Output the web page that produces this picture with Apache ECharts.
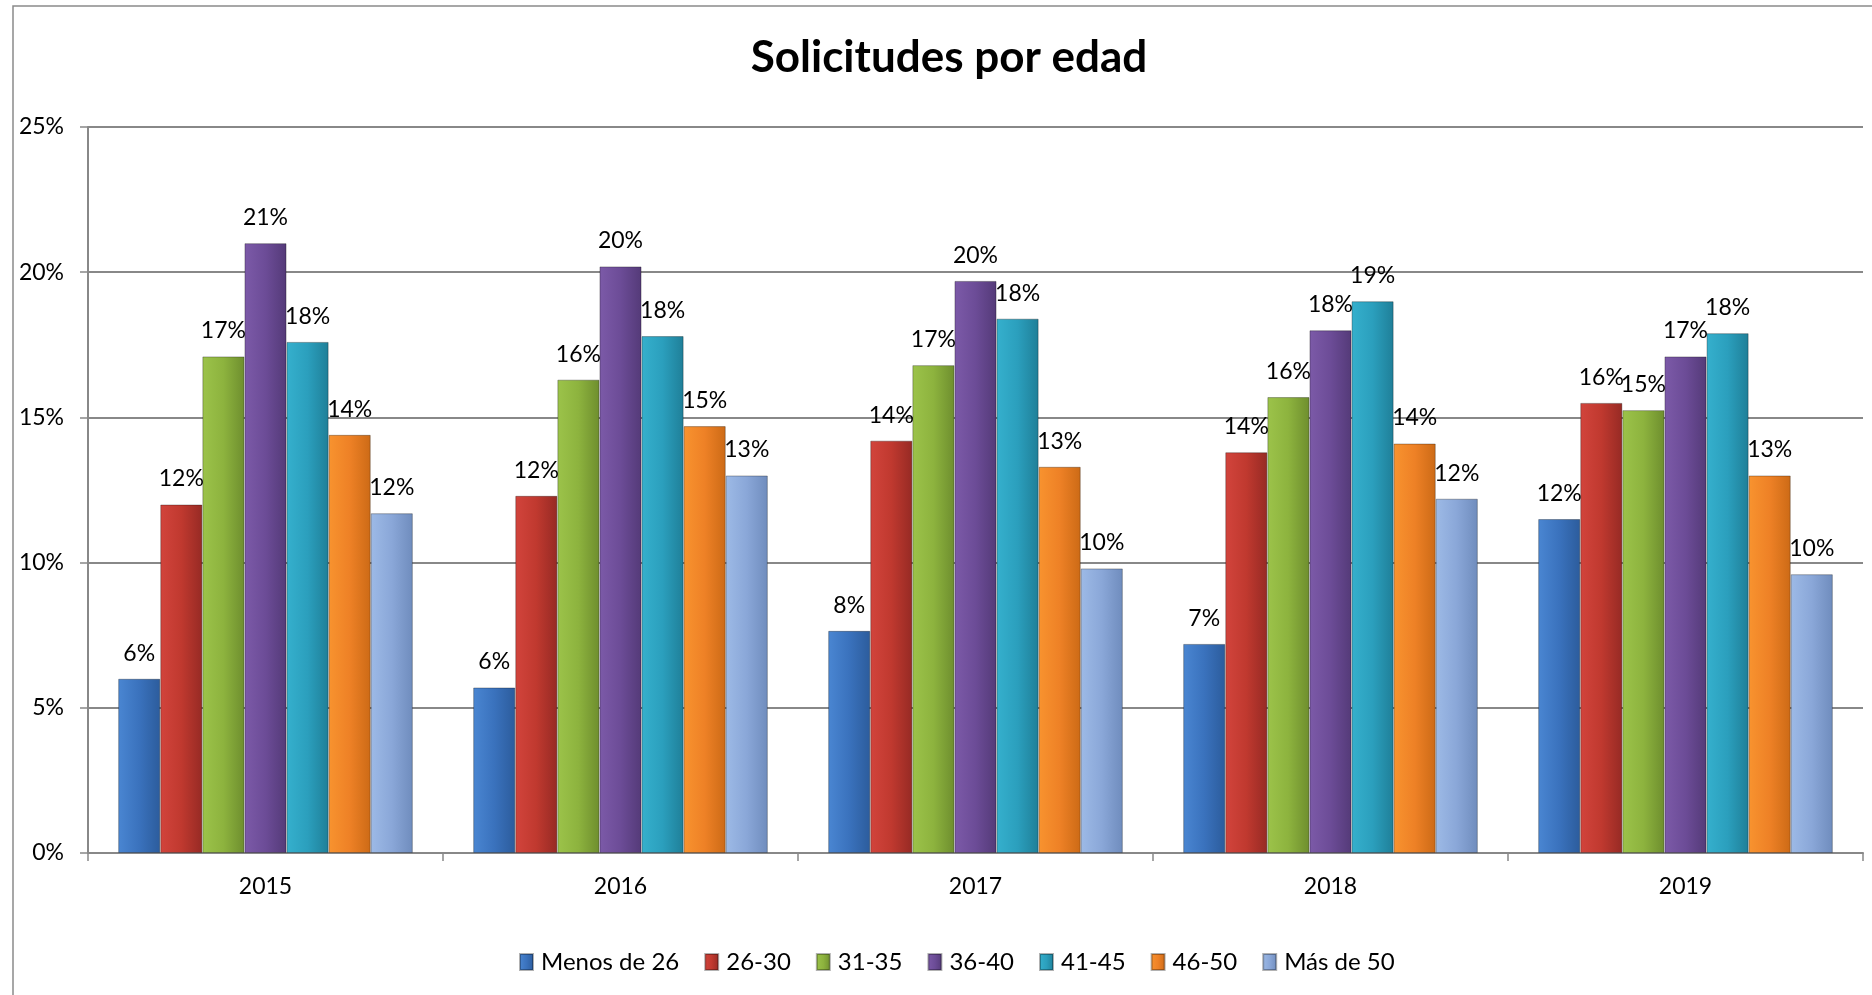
<!DOCTYPE html>
<html>
<head>
<meta charset="utf-8">
<script src="https://cdn.jsdelivr.net/npm/echarts@6/dist/echarts.min.js"></script>
<style>
html,body{margin:0;padding:0;background:#fff;}
#chart{width:1872px;height:995px;}
</style>
</head>
<body>
<div id="chart"></div>
<script>
const categories = ['2015', '2016', '2017', '2018', '2019'];
const seriesNames = ['Menos de 26', '26-30', '31-35', '36-40', '41-45', '46-50', 'Más de 50'];
const menos26 = [6.0, 5.7, 7.65, 7.2, 11.5];
const e26_30 = [12.0, 12.3, 14.2, 13.8, 15.5];
const e31_35 = [17.1, 16.3, 16.8, 15.7, 15.25];
const e36_40 = [21.0, 20.2, 19.7, 18.0, 17.1];
const e41_45 = [17.6, 17.8, 18.4, 19.0, 17.9];
const e46_50 = [14.4, 14.7, 13.3, 14.1, 13.0];
const mas50 = [11.7, 13.0, 9.8, 12.2, 9.6];
const yTicks = [0, 5, 10, 15, 20, 25];

const values = [menos26, e26_30, e31_35, e36_40, e41_45, e46_50, mas50];
const palette = [
  ['#4a86d2', '#3a72bd', '#2c5c9c'],
  ['#d2443c', '#c0392f', '#962a24'],
  ['#9cc34a', '#8db33e', '#6e8e2e'],
  ['#7c5aa8', '#6c4c97', '#543a78'],
  ['#35b0cd', '#2b9fbd', '#1f7f98'],
  ['#f8932f', '#ee8126', '#cc6a16'],
  ['#9dbae6', '#8aa7d8', '#6f8cbd']
];

const chart = echarts.init(document.getElementById('chart'));
const FONT = 'Lato, "Open Sans", sans-serif';

const series = seriesNames.map((name, i) => ({
  name: name,
  type: 'bar',
  data: values[i],
  barGap: '0%',
  barCategoryGap: '17%',
  itemStyle: {
    color: new echarts.graphic.LinearGradient(0, 0, 1, 0, [
      {offset: 0, color: palette[i][0]},
      {offset: 0.5, color: palette[i][1]},
      {offset: 1, color: palette[i][2]}
    ]),
    borderColor: 'rgba(0,0,0,0.3)',
    borderWidth: 1
  },
  label: {
    show: true,
    position: 'top',
    distance: 14,
    color: '#000',
    fontFamily: FONT,
    fontSize: 23,
    formatter: p => Math.round(p.value) + '%'
  }
}));

chart.setOption({
  backgroundColor: '#fff',
  animation: false,
  title: {
    text: 'Solicitudes por edad',
    left: 944,
    textAlign: 'center',
    top: 31,
    textStyle: {fontFamily: FONT, fontWeight: 'bold', fontSize: 44, color: '#000'}
  },
  graphic: [{
    type: 'rect',
    shape: {x: 13, y: 6, width: 1900, height: 1100},
    style: {fill: 'none', stroke: '#8a8a8a', lineWidth: 1.5},
    silent: true,
    z: -1
  }],
  legend: {
    data: seriesNames,
    left: 514,
    top: 945,
    icon: 'rect',
    itemWidth: 13,
    itemHeight: 16,
    itemGap: 25,
    textStyle: {fontFamily: FONT, fontSize: 24, color: '#000', padding: [0, 0, 0, 3]}
  },
  grid: {left: 88, right: 9, top: 127, bottom: 142, containLabel: false},
  xAxis: {
    type: 'category',
    data: categories,
    axisLine: {show: true, lineStyle: {color: '#888', width: 2}},
    axisTick: {show: true, length: 8, lineStyle: {color: '#888', width: 1.5}},
    axisLabel: {fontFamily: FONT, fontSize: 23, color: '#000', margin: 22}
  },
  yAxis: {
    type: 'value',
    min: yTicks[0],
    max: yTicks[yTicks.length - 1],
    interval: yTicks[1] - yTicks[0],
    axisLine: {show: true, lineStyle: {color: '#888', width: 2}},
    axisTick: {show: true, length: 8, lineStyle: {color: '#888', width: 1.5}},
    splitLine: {show: true, lineStyle: {color: '#888', width: 2}},
    axisLabel: {fontFamily: FONT, fontSize: 23, color: '#000', margin: 24, formatter: '{value}%'}
  },
  series: series
});
</script>
</body>
</html>
